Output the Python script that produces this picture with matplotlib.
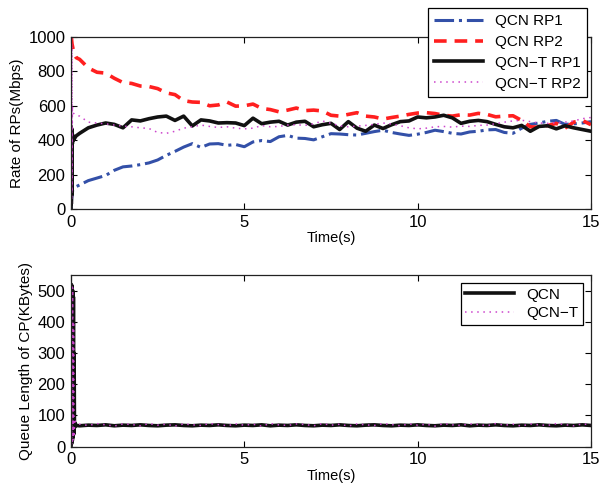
import matplotlib
matplotlib.use("Agg")
import matplotlib.pyplot as plt

plt.rcParams["font.family"] = ["Liberation Sans", "DejaVu Sans"]

# Sample times (s) shared by the slow part of every series
SAMPLE_TIMES = [
    0.25, 0.5, 0.75, 1.0, 1.25, 1.5, 1.75, 2.0, 2.25, 2.5, 2.75, 3.0,
    3.25, 3.5, 3.75, 4.0, 4.25, 4.5, 4.75, 5.0, 5.25, 5.5, 5.75, 6.0,
    6.25, 6.5, 6.75, 7.0, 7.25, 7.5, 7.75, 8.0, 8.25, 8.5, 8.75, 9.0,
    9.25, 9.5, 9.75, 10.0, 10.25, 10.5, 10.75, 11.0, 11.25, 11.5, 11.75, 12.0,
    12.25, 12.5, 12.75, 13.0, 13.25, 13.5, 13.75, 14.0, 14.25, 14.5, 14.75, 15.0,
]

# Start-up transients (first 0.15 s)
QCN_RP1_START_T = [0.0, 0.02, 0.05, 0.1, 0.15]
QCN_RP1_START = [0, 60, 110, 120, 130]
QCN_RP2_START_T = [0.0, 0.01, 0.03, 0.06, 0.1, 0.15]
QCN_RP2_START = [1000, 1000, 960, 930, 900, 880]
QCNT_RP1_START_T = [0.0, 0.005, 0.01, 0.015, 0.02, 0.025, 0.03, 0.035, 0.04, 0.05, 0.07, 0.1, 0.15]
QCNT_RP1_START = [0, 480, 30, 470, 80, 460, 120, 450, 380, 430, 400, 410, 425]
QCNT_RP2_START_T = [0.0, 0.005, 0.01, 0.015, 0.02, 0.025, 0.03, 0.04, 0.06, 0.1, 0.15]
QCNT_RP2_START = [0, 1000, 20, 990, 50, 950, 100, 600, 560, 550, 545]

# Rates (Mbps) at SAMPLE_TIMES
QCN_RP1 = [
    140, 165, 180, 195, 225, 245, 250, 258, 268, 285, 312, 335,
    360, 380, 358, 378, 380, 370, 375, 362, 390, 398, 392, 420,
    428, 412, 410, 402, 420, 438, 436, 432, 430, 440, 450, 458,
    445, 436, 428, 435, 445, 458, 450, 440, 436, 448, 452, 460,
    462, 445, 440, 470, 492, 500, 510, 515, 492, 495, 500, 508,
]
QCN_RP2 = [
    870, 820, 795, 790, 760, 735, 730, 715, 712, 700, 675, 665,
    630, 622, 620, 600, 605, 622, 598, 600, 610, 585, 578, 565,
    575, 587, 572, 575, 570, 545, 540, 550, 560, 540, 535, 523,
    532, 540, 550, 558, 560, 555, 545, 540, 548, 546, 556, 550,
    536, 540, 542, 515, 478, 475, 485, 498, 470, 505, 515, 490,
]
QCNT_RP1 = [
    440, 472, 488, 500, 492, 472, 518, 512, 525, 535, 540, 515,
    540, 483, 518, 512, 500, 502, 500, 485, 528, 496, 505, 510,
    488, 505, 510, 478, 490, 498, 462, 508, 470, 452, 488, 468,
    490, 508, 512, 535, 530, 535, 545, 530, 498, 510, 515, 508,
    492, 478, 472, 486, 452, 480, 484, 466, 484, 472, 462, 452,
]
QCNT_RP2 = [
    540, 505, 500, 495, 488, 482, 478, 472, 468, 445, 440, 452,
    470, 478, 488, 480, 474, 478, 470, 466, 470, 485, 478, 480,
    488, 490, 486, 495, 512, 498, 484, 478, 482, 486, 492, 500,
    494, 484, 472, 466, 470, 478, 480, 476, 482, 480, 486, 488,
    496, 505, 512, 516, 508, 500, 498, 502, 505, 512, 525, 532,
]

# Queue length (KBytes)
QCN_Q_START_T = [0.0, 0.01, 0.02, 0.03, 0.04, 0.05, 0.06, 0.07, 0.08, 0.09, 0.1, 0.12, 0.15]
QCN_Q_START = [0, 520, 10, 515, 20, 500, 30, 480, 40, 300, 60, 75, 68]
QCNT_Q_START_T = [0.0, 0.01, 0.02, 0.03, 0.04, 0.05, 0.06, 0.075, 0.09, 0.11, 0.13, 0.17]
QCNT_Q_START = [0, 525, 5, 520, 10, 510, 20, 400, 30, 90, 80, 72]
QCN_Q = [
    67, 69, 68, 70, 67, 69, 68, 70, 68, 67, 69, 70,
    68, 67, 69, 68, 70, 68, 67, 69, 68, 70, 67, 69,
    68, 70, 68, 67, 69, 68, 70, 68, 67, 69, 70, 68,
    67, 69, 68, 70, 68, 67, 69, 68, 70, 67, 69, 68,
    70, 68, 67, 69, 68, 70, 68, 67, 69, 68, 70, 68,
]
QCNT_Q = [
    72, 68, 74, 70, 66, 73, 71, 67, 74, 69, 72, 66,
    73, 70, 68, 74, 71, 67, 73, 69, 72, 66, 74, 70,
    68, 73, 71, 67, 74, 69, 72, 66, 73, 70, 68, 74,
    71, 67, 73, 69, 72, 66, 74, 70, 68, 73, 71, 67,
    74, 69, 72, 66, 73, 70, 68, 74, 71, 67, 73, 70,
]

BLUE = "#3350a8"
RED = "#ff1f1f"
BLACK = "#111111"
MAGENTA = "#cc44cc"


# MATLAB-like box axes with inward ticks on all sides
def style_axes(ax):
    ax.tick_params(direction="in", top=True, right=True, length=4, width=0.8,
                   labelsize=12, pad=4)
    for spine in ax.spines.values():
        spine.set_linewidth(0.9)
        spine.set_color("#222222")


fig = plt.figure(figsize=(6.0, 4.92), dpi=100, facecolor="white")
ax1 = fig.add_axes([0.1183, 0.5752, 0.8667, 0.3496])
ax2 = fig.add_axes([0.1183, 0.0921, 0.8667, 0.3489])

ax1.plot(QCN_RP1_START_T + SAMPLE_TIMES, QCN_RP1_START + QCN_RP1, color=BLUE,
         linestyle="-.", linewidth=2.2, label="QCN RP1")
ax1.plot(QCN_RP2_START_T + SAMPLE_TIMES, QCN_RP2_START + QCN_RP2, color=RED,
         linestyle=(0, (3.5, 2.2)), linewidth=2.6, label="QCN RP2")
ax1.plot(QCNT_RP1_START_T + SAMPLE_TIMES, QCNT_RP1_START + QCNT_RP1, color=BLACK,
         linestyle="-", linewidth=2.6, label="QCN\u2212T RP1")
ax1.plot(QCNT_RP2_START_T + SAMPLE_TIMES, QCNT_RP2_START + QCNT_RP2, color=MAGENTA,
         linestyle=(0, (1, 3)), linewidth=1.1, label="QCN\u2212T RP2")

ax1.set_xlim(0, 15)
ax1.set_ylim(0, 1000)
ax1.set_xticks([0, 5, 10, 15])
ax1.set_yticks([0, 200, 400, 600, 800, 1000])
ax1.set_xlabel("Time(s)", fontsize=10.5, labelpad=1)
ax1.set_ylabel("Rate of RPs(Mbps)", fontsize=11, labelpad=3)
style_axes(ax1)
leg1 = ax1.legend(loc="upper right", bbox_to_anchor=(0.978, 0.984),
                  bbox_transform=fig.transFigure, fontsize=11, handlelength=3.2,
                  fancybox=False, framealpha=1, edgecolor="black",
                  borderaxespad=0, labelspacing=0.45, borderpad=0.4)
leg1.get_frame().set_linewidth(0.9)

ax2.plot(QCN_Q_START_T + SAMPLE_TIMES, QCN_Q_START + QCN_Q, color=BLACK,
         linestyle="-", linewidth=2.6, label="QCN")
ax2.plot(QCNT_Q_START_T + SAMPLE_TIMES, QCNT_Q_START + QCNT_Q, color=MAGENTA,
         linestyle=(0, (1, 3)), linewidth=1.1, label="QCN\u2212T")

ax2.set_xlim(0, 15)
ax2.set_ylim(0, 550)
ax2.set_xticks([0, 5, 10, 15])
ax2.set_yticks([0, 100, 200, 300, 400, 500])
ax2.set_xlabel("Time(s)", fontsize=10.5, labelpad=1)
ax2.set_ylabel("Queue Length of CP(KBytes)", fontsize=11, labelpad=3)
style_axes(ax2)
leg2 = ax2.legend(loc="upper right", bbox_to_anchor=(0.972, 0.4248),
                  bbox_transform=fig.transFigure, fontsize=11, handlelength=3.2,
                  fancybox=False, framealpha=1, edgecolor="black",
                  borderaxespad=0, labelspacing=0.3, borderpad=0.3)
leg2.get_frame().set_linewidth(0.9)

fig.savefig("out.png", dpi=100, facecolor="white")
